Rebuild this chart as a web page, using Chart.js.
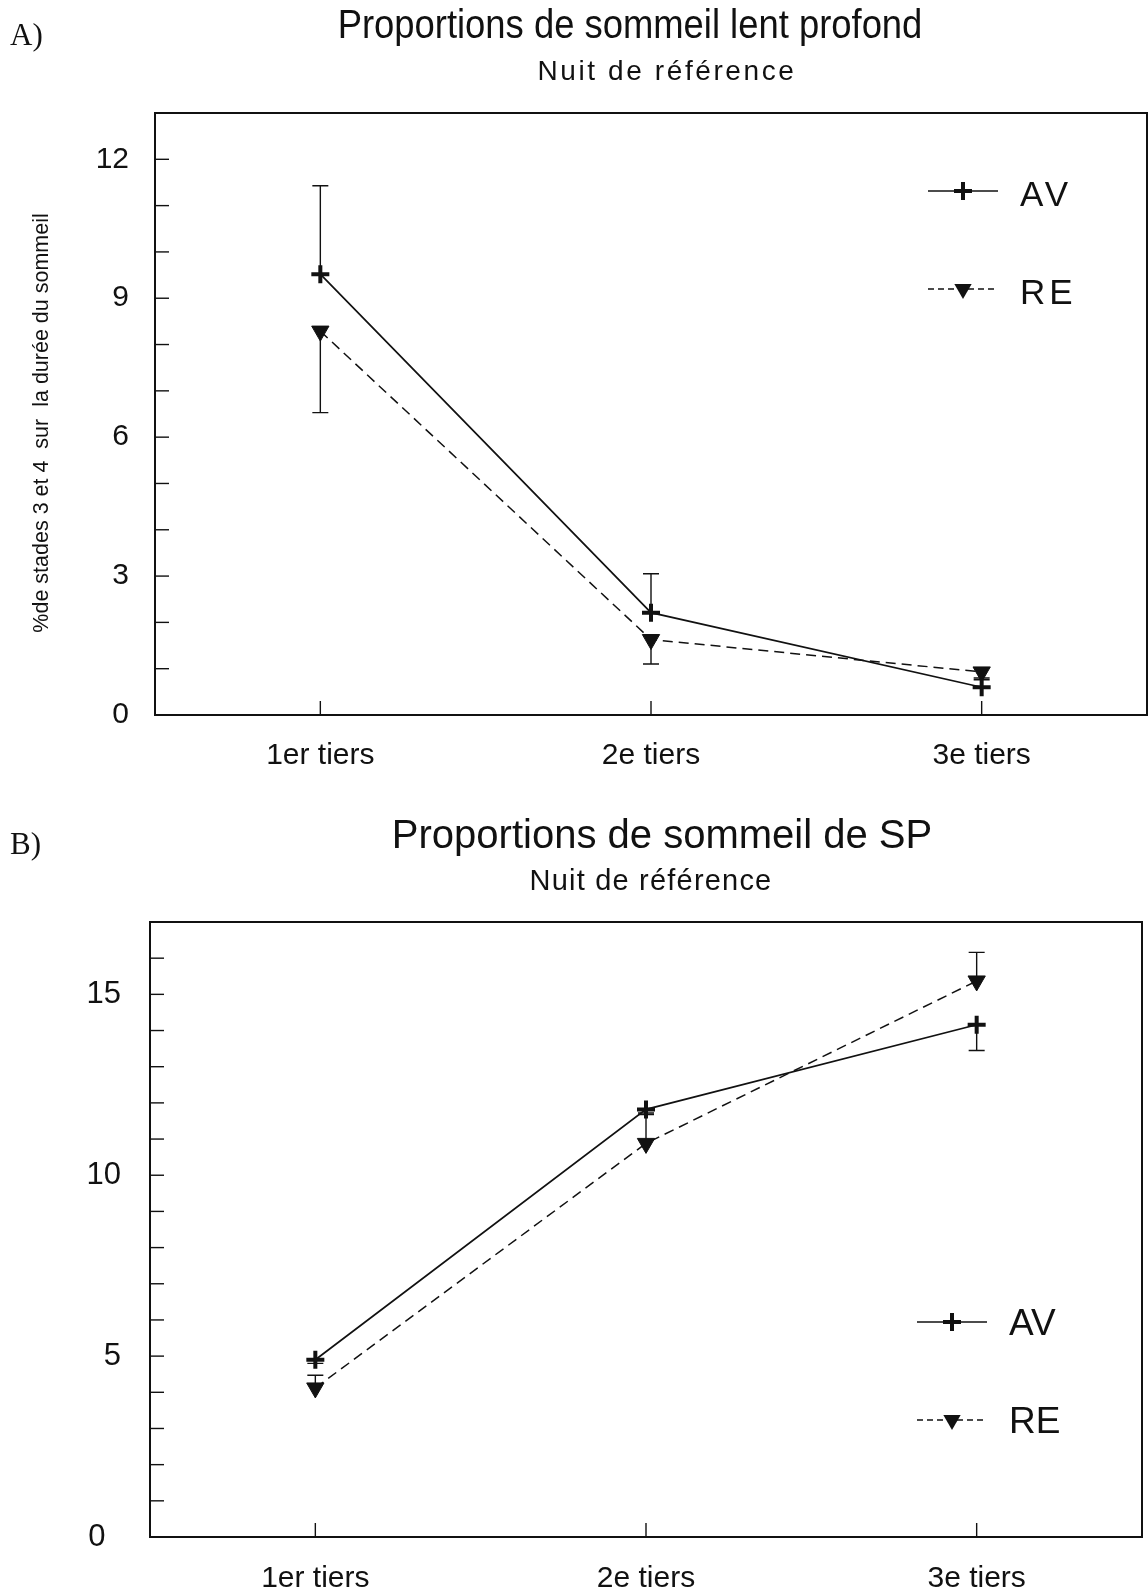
<!DOCTYPE html>
<html lang="fr">
<head>
<meta charset="utf-8">
<title>Proportions de sommeil</title>
<script src="https://cdn.jsdelivr.net/npm/chart.js@4.4.1/dist/chart.umd.min.js"></script>
<style>
  html, body { margin: 0; padding: 0; background: #fff; }
  body { width: 1148px; height: 1595px; position: relative; overflow: hidden;
         font-family: 'Liberation Sans', Arial, sans-serif; color: #111; }
  canvas { position: absolute; left: 0; }
  #grapheA { top: 0; }
  #grapheB { top: 800px; }
  .txt { position: absolute; white-space: nowrap; line-height: 1; }
  .lettre { font-family: 'Liberation Serif', 'Times New Roman', serif; font-size: 31px; left: 10px; }
  .titre { font-size: 40px; transform: translateX(-50%); }
  .sous { font-size: 28px; transform: translateX(-50%); }
</style>
</head>
<body>
<canvas id="grapheA" width="1148" height="790"></canvas>
<canvas id="grapheB" width="1148" height="795"></canvas>

<div class="txt lettre" style="top:19px">A)</div>
<div class="txt titre" style="top:4px; left:630px; transform:translateX(-50%) scaleX(0.91)">Proportions de sommeil lent profond</div>
<div class="txt sous" style="top:57px; left:667px; letter-spacing:2.6px">Nuit de référence</div>

<div class="txt lettre" style="top:828px">B)</div>
<div class="txt titre" style="top:814px; left:662px">Proportions de sommeil de SP</div>
<div class="txt sous" style="top:866px; left:651px; font-size:29px; letter-spacing:1.2px">Nuit de référence</div>

<script>
Chart.defaults.font.family = "'Liberation Sans', Arial, sans-serif";
Chart.defaults.color = '#111';

const categories = ['1er tiers', '2e tiers', '3e tiers'];

// A) sommeil lent profond : moyennes et extrémités des barres d'erreur
const avLent = [9.52, 2.21, 0.60];
const reLent = [8.29, 1.63, 0.93];
const avLentErr = [11.43, 3.05, 0.80];
const reLentErr = [6.53, 1.10, 0.76];
const graduationsLent = [0, 3, 6, 9, 12];

// B) sommeil paradoxal
const avSP = [4.90, 11.82, 14.16];
const reSP = [4.12, 10.88, 15.37];
const avSPErr = [4.80, 11.72, 13.45];
const reSPErr = [4.47, 11.68, 16.16];
const graduationsSP = [0, 5, 10, 15];

const NOIR = '#111';

function marqueur(ctx, ds, x, y) {
  const r = ds.pointRadius;
  ctx.fillStyle = NOIR;
  ctx.strokeStyle = NOIR;
  if (ds.pointStyle === 'cross') {
    ctx.lineWidth = ds.pointBorderWidth;
    ctx.beginPath();
    ctx.moveTo(x - r, y); ctx.lineTo(x + r, y);
    ctx.moveTo(x, y - r); ctx.lineTo(x, y + r);
    ctx.stroke();
  } else {
    ctx.beginPath();
    ctx.moveTo(x, y + r);
    ctx.lineTo(x - r * 0.866, y - r / 2);
    ctx.lineTo(x + r * 0.866, y - r / 2);
    ctx.closePath();
    ctx.fill();
  }
}

// cadre, graduations intérieures, barres d'erreur et légende
const cadre = {
  id: 'cadre',
  beforeDatasetsDraw(chart) {
    const { ctx, scales: { x, y } } = chart;
    ctx.save();
    ctx.strokeStyle = NOIR;
    ctx.lineWidth = 1.4;
    chart.data.datasets.forEach(ds => {
      ds.bornes.forEach((v, j) => {
        const px = x.getPixelForValue(j);
        const p0 = y.getPixelForValue(ds.data[j]);
        const p1 = y.getPixelForValue(v);
        ctx.beginPath();
        ctx.moveTo(px, p0); ctx.lineTo(px, p1);
        ctx.moveTo(px - 8, p1); ctx.lineTo(px + 8, p1);
        ctx.stroke();
      });
    });
    ctx.restore();
  },
  afterDraw(chart, args, opts) {
    const { ctx, chartArea: a, scales: { x, y } } = chart;
    ctx.save();
    ctx.strokeStyle = NOIR;
    ctx.lineWidth = 2;
    ctx.strokeRect(a.left, a.top, a.right - a.left, a.bottom - a.top);

    ctx.lineWidth = 1.4;
    y.ticks.forEach(t => {
      if (t.value <= y.min || t.value >= y.max) return;
      const py = y.getPixelForValue(t.value);
      ctx.beginPath(); ctx.moveTo(a.left, py); ctx.lineTo(a.left + 14, py); ctx.stroke();
    });
    x.ticks.forEach((t, j) => {
      const px = x.getPixelForValue(j);
      ctx.beginPath(); ctx.moveTo(px, a.bottom - 1); ctx.lineTo(px, a.bottom - 14); ctx.stroke();
    });

    chart.data.datasets.forEach((ds, i) => {
      const ly = opts.lignes[i];
      ctx.save();
      ctx.strokeStyle = NOIR;
      ctx.lineWidth = 1.4;
      ctx.setLineDash(ds.borderDash ? [6, 4] : []);
      ctx.beginPath(); ctx.moveTo(opts.x0, ly); ctx.lineTo(opts.x1, ly); ctx.stroke();
      ctx.setLineDash([]);
      marqueur(ctx, ds, (opts.x0 + opts.x1) / 2, ly);
      ctx.font = opts.taille + "px 'Liberation Sans', Arial, sans-serif";
      ctx.letterSpacing = opts.espacement;
      ctx.textBaseline = 'alphabetic';
      ctx.fillStyle = NOIR;
      ctx.fillText(ds.label, opts.texteX, ly + opts.decalage);
      ctx.restore();
    });
    ctx.restore();
  }
};

function series(av, avErr, re, reErr) {
  return [{
    label: 'AV',
    data: av,
    bornes: avErr,
    borderColor: NOIR,
    borderWidth: 1.7,
    pointStyle: 'cross',
    pointRadius: 9,
    pointBorderWidth: 4,
    pointBorderColor: NOIR,
    pointBackgroundColor: NOIR,
    tension: 0,
    clip: false
  }, {
    label: 'RE',
    data: re,
    bornes: reErr,
    borderColor: NOIR,
    borderWidth: 1.5,
    borderDash: [10, 6],
    pointStyle: 'triangle',
    pointRotation: 180,
    pointRadius: 10,
    pointBorderWidth: 1,
    pointBorderColor: NOIR,
    pointBackgroundColor: NOIR,
    tension: 0,
    clip: false
  }];
}

function graphe(id, datasets, o) {
  return new Chart(document.getElementById(id), {
    type: 'line',
    data: { labels: categories, datasets: datasets },
    plugins: [cadre],
    options: {
      responsive: false,
      animation: false,
      events: [],
      layout: {
        autoPadding: false,
        padding: { top: o.haut, right: o.droite, left: 0, bottom: 0 }
      },
      plugins: {
        legend: { display: false },
        tooltip: { enabled: false },
        cadre: o.legende
      },
      scales: {
        x: {
          offset: true,
          grid: { display: false, drawTicks: false },
          border: { display: false },
          ticks: { font: { size: 30 }, padding: o.padX, color: NOIR },
          afterFit: s => { s.height = o.hautX; s.paddingLeft = 0; s.paddingRight = 0; }
        },
        y: {
          min: 0,
          max: o.ymax,
          grid: { display: false, drawTicks: false },
          border: { display: false },
          ticks: {
            stepSize: 1,
            autoSkip: false,
            padding: o.padY,
            font: { size: o.tailleY },
            color: NOIR,
            // le zéro de l'axe B est décalé vers la gauche
            callback: v => o.graduations.includes(v) ? (v === 0 ? '0' + o.suffixeZero : String(v)) : ''
          },
          title: o.titreY,
          afterFit: s => { s.width = o.largeurY; }
        }
      }
    }
  });
}

graphe('grapheA', series(avLent, avLentErr, reLent, reLentErr), {
  ymax: 13,
  graduations: graduationsLent,
  suffixeZero: '',
  haut: 113, droite: 1, hautX: 75, largeurY: 155, padX: 23, padY: 26, tailleY: 30,
  titreY: {
    display: true,
    text: '%de stades 3 et 4  sur  la durée du sommeil   ',
    font: { size: 21.5 },
    color: NOIR,
    padding: { top: 29, bottom: 0 }
  },
  legende: { x0: 928, x1: 998, texteX: 1020, lignes: [191, 289], decalage: 15, taille: 35, espacement: '4px' }
});

graphe('grapheB', series(avSP, avSPErr, reSP, reSPErr), {
  ymax: 17,
  graduations: graduationsSP,
  suffixeZero: '\u2002',
  haut: 122, droite: 6, hautX: 58, largeurY: 150, padX: 24, padY: 29, tailleY: 31,
  titreY: { display: false },
  legende: { x0: 917, x1: 987, texteX: 1009, lignes: [522, 620], decalage: 13, taille: 37, espacement: '0px' }
});
</script>
</body>
</html>
